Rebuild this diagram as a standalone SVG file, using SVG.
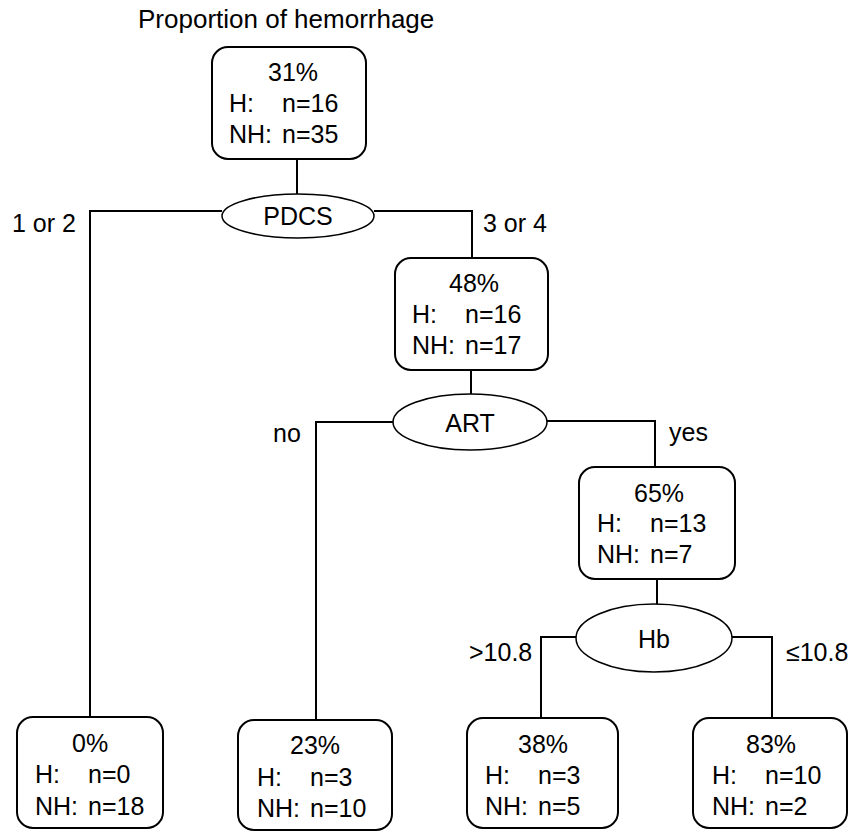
<svg xmlns="http://www.w3.org/2000/svg" width="855" height="832" viewBox="0 0 855 832">
<style>
text{font-family:"Liberation Sans",Arial,sans-serif;font-size:25px;fill:#000}
.title{font-size:26px}
.box{fill:#fff;stroke:#000;stroke-width:2}
.ell{fill:#fff;stroke:#000;stroke-width:1.5}
.con{fill:none;stroke:#000;stroke-width:2}
</style>
<rect width="855" height="832" fill="#fff"/>
<text class="title" x="138" y="28">Proportion of hemorrhage</text>
<g id="connectors">
<path class="con" d="M297 159V196"/>
<path class="con" d="M222 211H90V717"/>
<path class="con" d="M374 211H472V258"/>
<path class="con" d="M471 370V396"/>
<path class="con" d="M394 422H316V720"/>
<path class="con" d="M547 421H655V467"/>
<path class="con" d="M657 579V606"/>
<path class="con" d="M577 637H541V718"/>
<path class="con" d="M731 637H772V718"/>
</g>
<g id="lbl">
<text x="12" y="232">1 or 2</text>
<text x="483" y="232">3 or 4</text>
<text x="273" y="442">no</text>
<text x="669" y="441">yes</text>
<text x="469" y="661">&gt;10.8</text>
<text x="786" y="661">≤10.8</text>
</g>
<g id="root">
<rect class="box" x="212" y="47" width="154" height="112" rx="16"/>
<text x="268" y="81">31%</text>
<text x="229" y="112">H:</text><text x="282" y="112">n=16</text>
<text x="229" y="143">NH:</text><text x="282" y="143">n=35</text>
</g>
<g id="pdcs">
<ellipse class="ell" cx="298" cy="216" rx="76" ry="22"/>
<text x="298" y="225" text-anchor="middle">PDCS</text>
</g>
<g id="n48">
<rect class="box" x="395" y="258" width="153" height="112" rx="16"/>
<text x="449" y="292">48%</text>
<text x="412" y="323">H:</text><text x="465" y="323">n=16</text>
<text x="412" y="354">NH:</text><text x="465" y="354">n=17</text>
</g>
<g id="art">
<ellipse class="ell" cx="470" cy="422" rx="77" ry="28"/>
<text x="470" y="432" text-anchor="middle">ART</text>
</g>
<g id="n65">
<rect class="box" x="579" y="467" width="156" height="112" rx="16"/>
<text x="634" y="502">65%</text>
<text x="597" y="532">H:</text><text x="650" y="532">n=13</text>
<text x="597" y="563">NH:</text><text x="650" y="563">n=7</text>
</g>
<g id="hb">
<ellipse class="ell" cx="654" cy="638" rx="78" ry="34"/>
<text x="654" y="648" text-anchor="middle">Hb</text>
</g>
<g id="n0">
<rect class="box" x="17" y="717" width="146" height="111" rx="16"/>
<text x="72" y="752">0%</text>
<text x="35" y="783">H:</text><text x="88" y="783">n=0</text>
<text x="35" y="815">NH:</text><text x="88" y="815">n=18</text>
</g>
<g id="n23">
<rect class="box" x="238" y="720" width="154" height="110" rx="16"/>
<text x="290" y="754">23%</text>
<text x="257" y="786">H:</text><text x="310" y="786">n=3</text>
<text x="257" y="817">NH:</text><text x="310" y="817">n=10</text>
</g>
<g id="n38">
<rect class="box" x="467" y="718" width="151" height="110" rx="16"/>
<text x="518" y="753">38%</text>
<text x="485" y="784">H:</text><text x="538" y="784">n=3</text>
<text x="485" y="815">NH:</text><text x="538" y="815">n=5</text>
</g>
<g id="n83">
<rect class="box" x="693" y="718" width="154" height="110" rx="16"/>
<text x="746" y="753">83%</text>
<text x="712" y="784">H:</text><text x="765" y="784">n=10</text>
<text x="712" y="815">NH:</text><text x="765" y="815">n=2</text>
</g>
</svg>
